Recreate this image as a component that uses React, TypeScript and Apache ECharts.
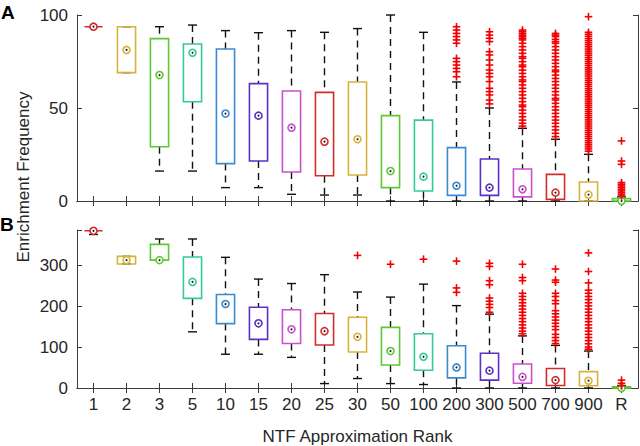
import React, { useEffect, useRef } from 'react';
import * as echarts from 'echarts';

const categories = ['1', '2', '3', '5', '10', '15', '20', '25', '30', '50', '100', '200', '300', '500', '700', '900', 'R'];
const boxColors = ['#D62B2B', '#D6B43C', '#5CC834', '#34C89C', '#3A8AD2', '#5A30C8', '#CC4FCC'];
const outlierColor = '#F00000';

// [lower whisker, q1, median, q3, upper whisker]
const statsA = [
  [93.7, 93.7, 93.7, 93.7, 93.7],
  [69.0, 69.0, 81.2, 93.7, 93.7],
  [16.1, 29.2, 67.7, 87.3, 93.7],
  [16.1, 53.4, 79.7, 84.4, 94.6],
  [7.2, 20.1, 47.0, 81.7, 91.6],
  [7.2, 21.5, 45.9, 63.1, 90.5],
  [3.6, 15.6, 39.4, 59.1, 91.6],
  [3.2, 13.6, 31.9, 58.4, 90.7],
  [3.2, 14.0, 33.2, 64.0, 92.7],
  [0, 7.2, 16.1, 45.9, 100],
  [0, 5.4, 13.1, 43.5, 90.7],
  [0, 3.0, 8.2, 28.7, 64.0],
  [0, 3.0, 7.2, 22.6, 50.0],
  [0, 2.2, 6.3, 17.2, 39.1],
  [0, 0.9, 4.5, 14.3, 33.2],
  [0, 0, 3.4, 10.2, 25.1],
  [0, 0, 0, 1.3, 2.2],
];

const statsB = [
  [376, 385, 385, 385, 385],
  [303.9, 303.9, 313.2, 322.4, 322.4],
  [313.2, 313.2, 313.2, 351.8, 365],
  [137.6, 219.6, 259.8, 320.9, 365],
  [82.7, 157.7, 205.7, 228.9, 320.1],
  [82.7, 119.1, 158.5, 197.9, 266.8],
  [75.0, 109.0, 143.8, 191.8, 255.9],
  [10.8, 105.2, 139.2, 182.5, 277.6],
  [23.2, 88.1, 125.3, 173.2, 235.1],
  [10.8, 56.4, 90.5, 148.5, 222.7],
  [8.5, 43.3, 76.5, 133.0, 254.4],
  [0, 24.7, 50.3, 103.6, 201.8],
  [0, 19.3, 42.5, 85.1, 180.9],
  [0, 11.6, 27.1, 58.8, 127.6],
  [0, 6.2, 19.3, 47.9, 104.4],
  [0, 5.4, 17.8, 40.2, 90.5],
  [0, 0, 0, 3, 6],
];

const outliersA = [
  [], [], [], [], [], [], [], [], [], [], [],
  [93.7, 91.9, 90.1, 88.4, 86.6, 84.8, 76.7, 74.9, 73.1, 71.3, 69.5, 66.8],
  [91.0, 89.2, 87.5, 85.7, 80.3, 78.5, 75.8, 73.1, 70.4, 68.6, 66.8, 64.2, 60.6, 58.8, 57.0, 54.3, 52.2],
  [91.9, 91.0, 90.1, 89.2, 88.4, 87.5, 86.6, 84.8, 83.0, 81.2, 79.4, 77.6, 76.7, 74.9, 73.1, 72.2, 70.4, 68.6,
    66.8, 65.1, 64.2, 62.4, 60.6, 58.8, 57.0, 55.2, 53.4, 51.6, 50.7, 48.9, 47.1, 45.3, 43.5, 41.8, 40.3],
  [90.1, 89.2, 88.4, 86.9, 85.7, 84.8, 83.0, 81.2, 79.4, 77.6, 75.8, 74.0, 72.2, 70.4, 69.5, 67.7, 65.9, 64.2,
    62.4, 60.6, 58.8, 57.0, 55.2, 54.3, 52.5, 50.7, 48.9, 47.1, 45.3, 43.5, 41.8, 40.0, 38.2, 36.4, 34.6],
  [99.1, 90.7, 89.6, 88.5, 87.3, 86.2, 85.1, 84.0, 82.9, 81.7, 80.6, 79.5, 78.4, 77.2, 76.1, 75.0, 73.9, 72.8,
    71.6, 70.5, 69.4, 68.3, 67.2, 66.0, 64.9, 63.8, 62.7, 61.6, 60.4, 59.3, 58.2, 57.1, 56.0, 54.8, 53.7, 52.6,
    51.5, 50.4, 49.2, 48.1, 47.0, 45.9, 44.8, 43.6, 42.5, 41.4, 40.3, 39.2, 38.0, 36.9, 35.8, 34.7, 33.6, 32.4,
    31.3, 30.2, 29.1, 28.0, 26.8],
  [32.3, 21.5, 19.7, 9.9, 9.0, 8.1, 7.2, 6.3, 5.4, 4.5, 3.6, 2.7],
];

const outliersB = [
  [], [], [], [], [], [], [], [],
  [324.8],
  [303.1],
  [315.5],
  [310.8, 245.1, 234.3],
  [305.4, 297.7, 262.9, 252.8, 220.4, 212.6, 204.9, 197.2, 185.6],
  [303.1, 270.6, 262.9, 232.0, 224.2, 216.5, 208.8, 201.0, 193.3, 185.6, 177.8, 170.1, 162.4, 154.6, 146.9, 139.2, 133.0],
  [291.5, 264.4, 259.0, 232.0, 224.2, 214.2, 206.4, 189.4, 181.7, 174.0, 166.2, 158.5, 150.8, 143.0, 131.4, 123.7, 116.0, 109.0],
  [330.9, 285.3, 257.5, 239.7, 232.0, 224.2, 216.5, 208.8, 201.0, 193.3, 185.6, 177.8, 170.1, 162.4, 154.6, 146.9,
    139.2, 131.4, 123.7, 116.0, 108.3, 100.5, 95.1],
  [19.3, 11.6, 5.4],
];

const FONT = 'Liberation Sans, Arial, Helvetica, sans-serif';
const TXT = '#262626';
const AXIS = '#3a3a3a';

const renderBox = (params: any, api: any) => {
  const i = api.value(0);
  const p = (v: number) => api.coord([i, v]);
  const lo = p(api.value(1));
  const q1 = p(api.value(2));
  const md = p(api.value(3));
  const q3 = p(api.value(4));
  const hi = p(api.value(5));
  const cx = lo[0];
  const bw = api.size([1, 0])[0] * 0.55;
  const cw = 4.5;
  const color = boxColors[i % boxColors.length];
  const dash = { stroke: '#111', lineWidth: 1.4, lineDash: [7, 5], fill: null };
  const solid = { stroke: '#111', lineWidth: 1.4, fill: null };
  return {
    type: 'group',
    children: [
      { type: 'line', shape: { x1: cx, y1: hi[1], x2: cx, y2: q3[1] }, style: dash },
      { type: 'line', shape: { x1: cx, y1: q1[1], x2: cx, y2: lo[1] }, style: dash },
      { type: 'line', shape: { x1: cx - cw, y1: hi[1], x2: cx + cw, y2: hi[1] }, style: solid },
      { type: 'line', shape: { x1: cx - cw, y1: lo[1], x2: cx + cw, y2: lo[1] }, style: solid },
      {
        type: 'polygon',
        shape: { points: [[cx - bw / 2, q3[1]], [cx + bw / 2, q3[1]], [cx + bw / 2, q1[1]], [cx - bw / 2, q1[1]]] },
        style: { stroke: color, lineWidth: 1.6, fill: null },
      },
      { type: 'circle', shape: { cx, cy: md[1], r: 3.5 }, style: { stroke: color, lineWidth: 1.6, fill: '#fff' } },
      { type: 'circle', shape: { cx, cy: md[1], r: 1 }, style: { fill: '#222' } },
    ],
  };
};

const renderPlus = (params: any, api: any) => {
  const c = api.coord([api.value(0), api.value(1)]);
  const h = 3.8;
  const st = { stroke: outlierColor, lineWidth: 1.6, fill: null };
  return {
    type: 'group',
    children: [
      { type: 'line', shape: { x1: c[0] - h, y1: c[1], x2: c[0] + h, y2: c[1] }, style: st },
      { type: 'line', shape: { x1: c[0], y1: c[1] - h, x2: c[0], y2: c[1] + h }, style: st },
    ],
  };
};

const catAxis = (gridIndex: number, position: string, showLabels: boolean, name?: string) => ({
  type: 'category',
  gridIndex,
  position,
  data: categories,
  boundaryGap: true,
  axisLine: { show: true, lineStyle: { color: AXIS, width: 1 } },
  axisTick: { show: true, inside: true, alignWithLabel: true, interval: 0, length: 5, lineStyle: { color: AXIS } },
  axisLabel: { show: showLabels, interval: 0, hideOverlap: false, fontSize: 17, color: TXT, fontFamily: FONT, margin: 8 },
  splitLine: { show: false },
  name: name || '',
  nameLocation: 'middle',
  nameGap: 40,
  nameTextStyle: { fontSize: 17, color: TXT, fontFamily: FONT },
});

const valAxis = (gridIndex: number, position: string, max: number, interval: number, showLabels: boolean) => ({
  type: 'value',
  gridIndex,
  position,
  min: 0,
  max,
  interval,
  axisLine: { show: true, lineStyle: { color: AXIS, width: 1 } },
  axisTick: { show: true, inside: true, length: 5, lineStyle: { color: AXIS } },
  axisLabel: {
    show: showLabels,
    fontSize: 17,
    color: TXT,
    fontFamily: FONT,
    margin: 9,
    formatter: (v: number) => (v % interval === 0 ? String(v) : ''),
  },
  splitLine: { show: false },
});

export default function App() {
  const ref = useRef<HTMLDivElement>(null);
  useEffect(() => {
    if (!ref.current) return;
    const chart = echarts.init(ref.current, undefined, { renderer: 'svg' });
    chart.setOption({
      animation: false,
      backgroundColor: '#fff',
      grid: [
        { left: 77, top: 15, width: 561, height: 186 },
        { left: 77, top: 230, width: 561, height: 167 },
      ],
      xAxis: [
        catAxis(0, 'bottom', false),
        catAxis(0, 'top', false),
        catAxis(1, 'bottom', true, 'NTF Approximation Rank'),
        catAxis(1, 'top', false),
      ],
      yAxis: [
        valAxis(0, 'left', 100, 50, true),
        valAxis(0, 'right', 100, 50, false),
        valAxis(1, 'left', 387, 100, true),
        valAxis(1, 'right', 387, 100, false),
      ],
      graphic: [
        {
          type: 'text', x: 23, y: 177, rotation: Math.PI / 2,
          style: { text: 'Enrichment Frequency', fontSize: 17, fill: TXT, fontFamily: FONT, align: 'center', verticalAlign: 'middle' },
        },
        { type: 'text', x: 1, y: 3, style: { text: 'A', fontSize: 19, fontWeight: 'bold', fill: '#000', fontFamily: FONT } },
        { type: 'text', x: 0, y: 215, style: { text: 'B', fontSize: 19, fontWeight: 'bold', fill: '#000', fontFamily: FONT } },
      ],
      series: [
        {
          type: 'custom', xAxisIndex: 0, yAxisIndex: 0, renderItem: renderBox,
          data: statsA.map((s, i) => [i, ...s]), encode: { x: 0, y: [1, 2, 3, 4, 5] }, clip: false,
        },
        {
          type: 'custom', xAxisIndex: 0, yAxisIndex: 0, renderItem: renderPlus,
          data: outliersA.flatMap((arr, i) => arr.map((v) => [i, v])), encode: { x: 0, y: 1 },
        },
        {
          type: 'custom', xAxisIndex: 2, yAxisIndex: 2, renderItem: renderBox,
          data: statsB.map((s, i) => [i, ...s]), encode: { x: 0, y: [1, 2, 3, 4, 5] }, clip: false,
        },
        {
          type: 'custom', xAxisIndex: 2, yAxisIndex: 2, renderItem: renderPlus,
          data: outliersB.flatMap((arr, i) => arr.map((v) => [i, v])), encode: { x: 0, y: 1 },
        },
      ],
    });
    return () => chart.dispose();
  }, []);
  return <div ref={ref} style={{ position: 'absolute', left: 0, top: 0, width: 640, height: 446 }} />;
}
